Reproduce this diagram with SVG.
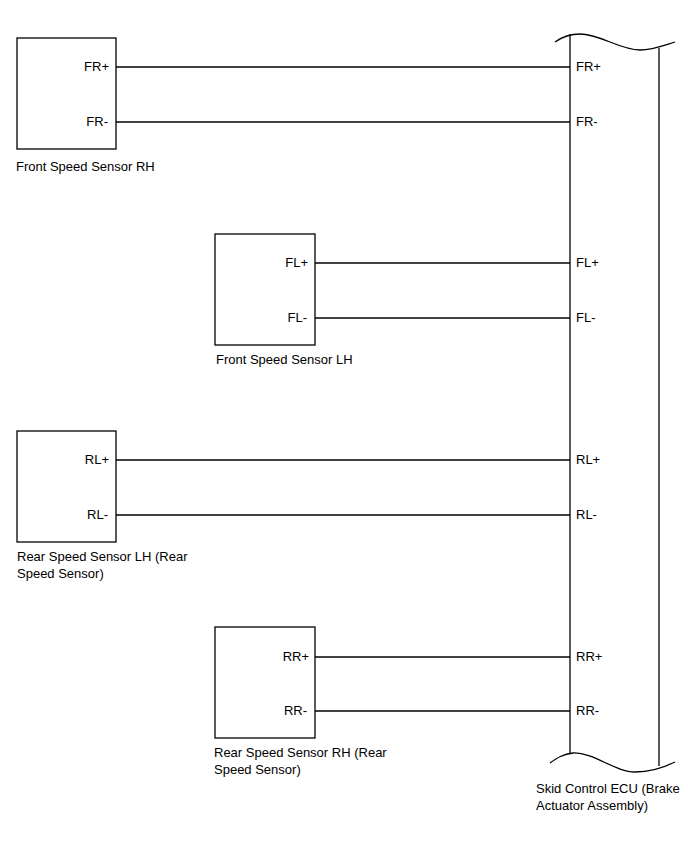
<svg xmlns="http://www.w3.org/2000/svg" width="688" height="852" viewBox="0 0 688 852">
<style>
.box{fill:#fff;stroke:#000;stroke-width:1.3}
.w{stroke:#000;stroke-width:1.3;fill:none}
text{font-family:"Liberation Sans",Arial,sans-serif;font-size:13px;fill:#000}
.r{text-anchor:end}
</style>
<rect width="688" height="852" fill="#fff"/>
<g id="connectors">
<line class="w" x1="116" y1="67" x2="570" y2="67"/>
<line class="w" x1="116" y1="122" x2="570" y2="122"/>
<line class="w" x1="315" y1="263" x2="570" y2="263"/>
<line class="w" x1="315" y1="318" x2="570" y2="318"/>
<line class="w" x1="116" y1="460" x2="570" y2="460"/>
<line class="w" x1="116" y1="515" x2="570" y2="515"/>
<line class="w" x1="315" y1="657" x2="570" y2="657"/>
<line class="w" x1="315" y1="711" x2="570" y2="711"/>
</g>
<g id="ecu">
<path class="w" d="M555 42 C562 37 570 34 580 34 C600 34 620 50 640 50 C652 50 665 45 675 42"/>
<path class="w" d="M550 763 C557 758 563 754 573 753 C593 752 615 772 635 772 C650 772 665 767 675 762"/>
<line class="w" x1="570" y1="34" x2="570" y2="754"/>
<line class="w" x1="659" y1="48" x2="659" y2="766"/>
<text x="576" y="71">FR+</text>
<text x="576" y="126">FR-</text>
<text x="576" y="267">FL+</text>
<text x="576" y="322">FL-</text>
<text x="576" y="464">RL+</text>
<text x="576" y="519">RL-</text>
<text x="576" y="661">RR+</text>
<text x="576" y="715">RR-</text>
<text x="536" y="793">Skid Control ECU (Brake</text>
<text x="536" y="810">Actuator Assembly)</text>
</g>
<g id="fr">
<rect class="box" x="17" y="38" width="99" height="111"/>
<text class="r" x="109" y="71">FR+</text>
<text class="r" x="108" y="126">FR-</text>
<text x="16" y="171">Front Speed Sensor RH</text>
</g>
<g id="fl">
<rect class="box" x="215" y="234" width="100" height="111"/>
<text class="r" x="308" y="267">FL+</text>
<text class="r" x="307" y="322">FL-</text>
<text x="216" y="364">Front Speed Sensor LH</text>
</g>
<g id="rl">
<rect class="box" x="17" y="431" width="99" height="111"/>
<text class="r" x="109" y="464">RL+</text>
<text class="r" x="108" y="519">RL-</text>
<text x="17" y="561">Rear Speed Sensor LH (Rear</text>
<text x="17" y="578">Speed Sensor)</text>
</g>
<g id="rr">
<rect class="box" x="215" y="627" width="100" height="111"/>
<text class="r" x="309" y="661">RR+</text>
<text class="r" x="307" y="715">RR-</text>
<text x="214" y="757">Rear Speed Sensor RH (Rear</text>
<text x="214" y="774">Speed Sensor)</text>
</g>
</svg>
